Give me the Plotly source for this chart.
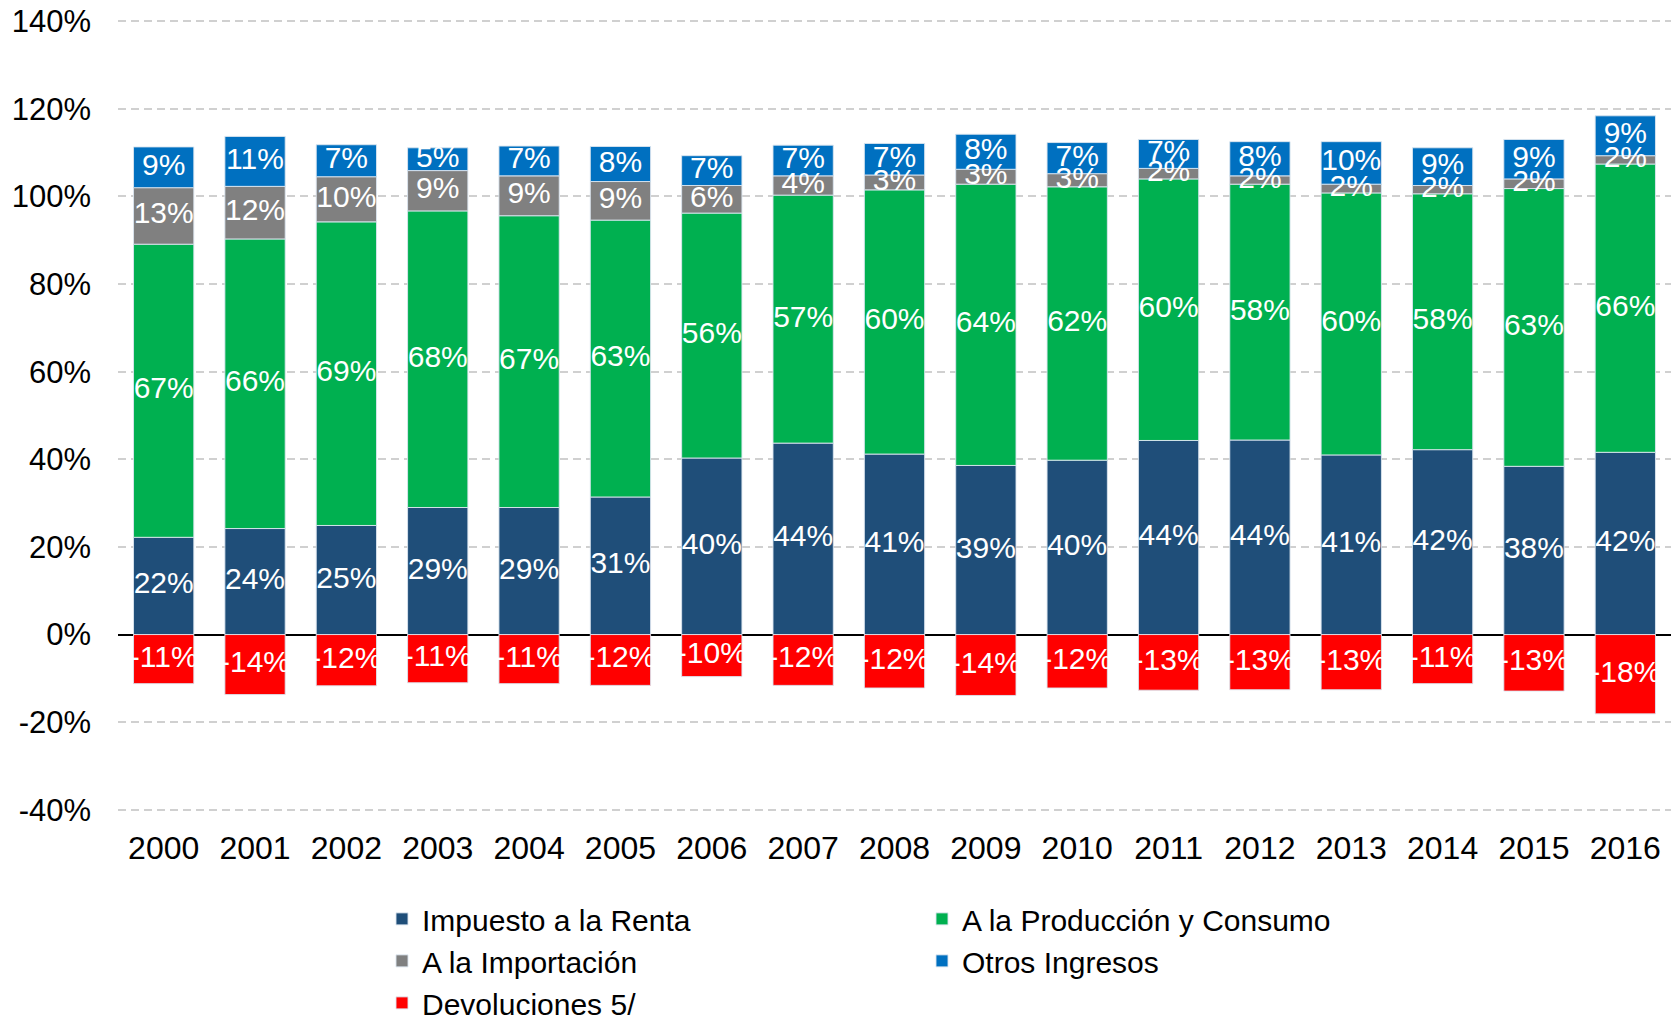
import numpy as np
import plotly.graph_objects as go

years = ["2000", "2001", "2002", "2003", "2004", "2005", "2006", "2007", "2008",
         "2009", "2010", "2011", "2012", "2013", "2014", "2015", "2016"]

renta = [22.2, 24.2, 24.9, 29.0, 29.0, 31.4, 40.3, 43.7, 41.2, 38.6, 39.8, 44.3, 44.4, 41.0, 42.2, 38.4, 41.6]
produccion = [66.9, 66.1, 69.3, 67.7, 66.6, 63.2, 55.9, 56.6, 60.3, 64.2, 62.4, 59.7, 58.4, 59.8, 58.4, 63.4, 65.8]
importacion = [12.9, 12.0, 10.3, 9.2, 9.1, 8.8, 6.3, 4.4, 3.4, 3.4, 3.0, 2.4, 1.9, 2.0, 1.9, 2.2, 1.9]
otros = [9.3, 11.4, 7.3, 5.2, 6.8, 8.0, 6.8, 7.0, 7.2, 8.0, 7.1, 6.6, 7.8, 9.7, 8.6, 9.0, 9.1]
devoluciones = [-11.2, -13.7, -11.7, -11.0, -11.2, -11.6, -9.6, -11.6, -12.2, -13.9, -12.2, -12.7, -12.6, -12.6, -11.2, -12.9, -18.1]

y_ticks = [-40, -20, 0, 20, 40, 60, 80, 100, 120, 140]
y_tick_labels = ["-40%", "-20%", "0%", "20%", "40%", "60%", "80%", "100%", "120%", "140%"]

series = [
    ("Impuesto a la Renta", renta, "#1F4E79"),
    ("A la Producción y Consumo", produccion, "#00B050"),
    ("A la Importación", importacion, "#808080"),
    ("Otros Ingresos", otros, "#0070C0"),
    ("Devoluciones 5/", devoluciones, "#FF0000"),
]

font = "Liberation Sans, Arial, sans-serif"

fig = go.Figure()
for name, vals, color in series:
    fig.add_trace(go.Bar(
        x=years, y=vals, name=name,
        marker=dict(color=color, line=dict(color="rgba(220,230,240,0.9)", width=1)),
    ))

# labels drawn above all bars (as in the original, small segments overlap)
pos_base = np.zeros(len(years))
for name, vals, color in series:
    v = np.array(vals)
    if v.min() >= 0:
        mid = pos_base + v / 2
        pos_base = pos_base + v
    else:
        mid = v / 2
    fig.add_trace(go.Scatter(
        x=years, y=mid, mode="text", showlegend=False, hoverinfo="skip",
        text=[f"{x:.0f}%" for x in vals],
        textfont=dict(color="white", size=30, family=font),
    ))

fig.update_layout(
    barmode="relative", bargap=0.34,
    width=1678, height=1022,
    margin=dict(l=118, r=7, t=19, b=210, autoexpand=False),
    plot_bgcolor="white", paper_bgcolor="white",
    font=dict(family=font, size=31, color="black"),
    showlegend=True,
    legend=dict(orientation="h", x=0.17, xanchor="left", y=-0.102, yanchor="top",
                entrywidth=495, traceorder="normal",
                font=dict(size=30, color="black")),
    xaxis=dict(range=[-0.5, 16.5], showgrid=False, showline=False, ticks="",
               ticklabelstandoff=14, tickfont=dict(size=32)),
    yaxis=dict(range=[-40.5, 140.5], tickvals=y_ticks, ticktext=y_tick_labels,
               showgrid=True, gridcolor="#D0D0D0", gridwidth=1.5, griddash="8px,5px",
               zeroline=True, zerolinecolor="black", zerolinewidth=1.5,
               ticks="", ticklabelstandoff=26, ticklabeloverflow="allow",
               tickfont=dict(size=31)),
)

# drop the default 8px page margin so the figure fills the window exactly
fig.write_html("out.html", config={"displayModeBar": False},
               post_script="document.body.style.margin='0';")
